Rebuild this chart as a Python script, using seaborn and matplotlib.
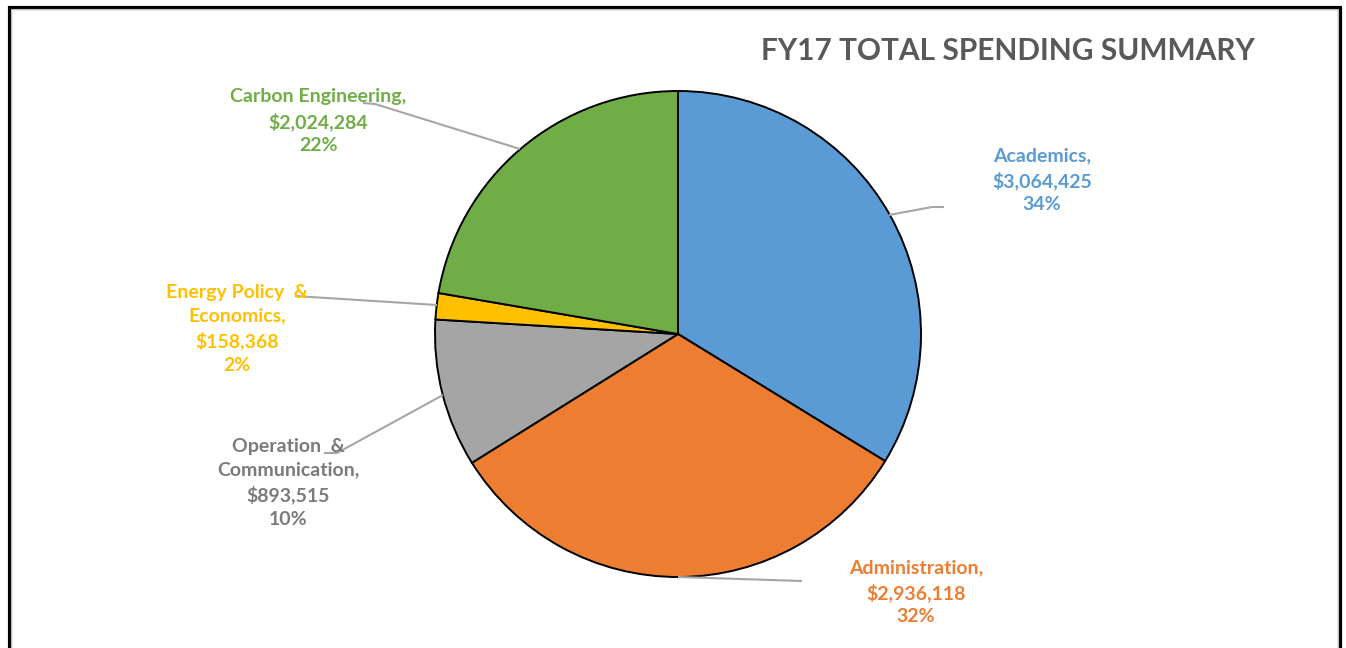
import matplotlib
matplotlib.use("Agg")
import matplotlib.pyplot as plt
import seaborn as sns
from matplotlib.patches import Rectangle

categories = ["Academics", "Administration", "Operation  &\nCommunication",
              "Energy Policy  &\nEconomics", "Carbon Engineering"]
values = [3064425, 2936118, 893515, 158368, 2024284]
percents = ["34%", "32%", "10%", "2%", "22%"]
colors = ["#5B9BD5", "#ED7D31", "#A5A5A5", "#FFC000", "#70AD47"]
text_colors = ["#5B9BD5", "#ED7D31", "#7A7A7A", "#FFC000", "#70AD47"]

sns.set_theme(style="white")
plt.rcParams['font.family'] = ['Lato', 'DejaVu Sans']

W, H = 1346, 648
fig = plt.figure(figsize=(W / 100, H / 100), dpi=100)
ax = fig.add_axes([0, 0, 1, 1])
cx, cy, R = 678, 334, 243

def d(px, py):
    return ((px - cx) / R, (cy - py) / R)

ax.pie(values, colors=colors, startangle=90, counterclock=False, radius=1,
       center=(0, 0), wedgeprops=dict(edgecolor="black", linewidth=1.4),
       frame=True)
ax.set_xlim(-cx / R, (W - cx) / R)
ax.set_ylim(-(H - cy) / R, cy / R)
ax.set_aspect("equal")
ax.axis("off")

# leader lines (pixel paths)
leaders = [
    [(889, 215), (932, 207), (944, 207)],
    [(678, 577), (802, 581)],
    [(443, 395), (337, 453), (324, 453)],
    [(437, 305), (295, 296)],
    [(520, 149), (375, 104), (363, 103)],
]
for path in leaders:
    pts = [d(*p) for p in path]
    ax.plot([p[0] for p in pts], [p[1] for p in pts], color="#A6A6A6", lw=1.5,
            solid_capstyle="butt", zorder=1)

label_pos = [(1042, 180), (916, 592), (288, 483), (237, 329), (318, 121)]
for cat, v, pc, col, (px, py) in zip(categories, values, percents, text_colors, label_pos):
    txt = f"{cat},\n${v:,}\n{pc}"
    x, y = d(px, py)
    ax.text(x, y, txt, ha="center", va="center", color=col, fontsize=14,
            fontweight="bold", linespacing=1.45)

tx, ty = d(1008, 51)
ax.text(tx, ty, "FY17 TOTAL SPENDING SUMMARY", ha="center", va="center",
        color="#595959", fontsize=21.5, fontweight="bold")

# border
fig.patches.append(Rectangle((9.5 / W, -0.1), (1339.5 - 9.5) / W, 1.1 - 7.5 / H,
                             transform=fig.transFigure, fill=False,
                             edgecolor="black", linewidth=3, zorder=10))
fig.patches.append(Rectangle((11.5 / W, -0.1), (1337.5 - 11.5) / W, 1.1 - 9.5 / H,
                             transform=fig.transFigure, fill=False,
                             edgecolor="#BFBFBF", linewidth=0.8, zorder=10))

fig.savefig("out.png", dpi=100, facecolor="white")
